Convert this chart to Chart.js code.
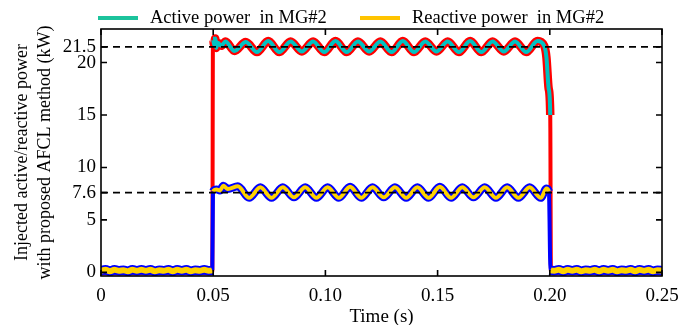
<!DOCTYPE html>
<html>
<head>
<meta charset="utf-8">
<script src="https://cdn.jsdelivr.net/npm/chart.js@4.4.1/dist/chart.umd.min.js"></script>
<style>
  html, body { margin: 0; padding: 0; background: #fff; }
  #wrap { width: 681px; height: 325px; position: relative; }
</style>
</head>
<body>
<div id="wrap"><canvas id="c" width="681" height="325"></canvas></div>
<script>
// ---------------- data ----------------
const legendLabels = ["Active power  in MG#2", "Reactive power  in MG#2"];
const xTickValues = [0, 0.05, 0.10, 0.15, 0.20, 0.25];
const xTickLabels = ["0", "0.05", "0.10", "0.15", "0.20", "0.25"];
const yTickValues = [0, 5, 7.6, 10, 15, 20, 21.5];
const yTickLabels = ["0", "5", "7.6", "10", "15", "20", "21.5"];
const refLevels = [21.5, 7.6];

// active power (kW) vs time (s)
const timeP = [0, 0.0496, 0.0499, 0.0504, 0.0509, 0.0514, 0.0520, 0.0535, 0.0555, 0.0595,
  0.0645, 0.0695, 0.0745, 0.0795, 0.0845, 0.0895, 0.0945, 0.0995, 0.1045, 0.1095,
  0.1145, 0.1195, 0.1245, 0.1295, 0.1345, 0.1395, 0.1445, 0.1495, 0.1545, 0.1595,
  0.1645, 0.1695, 0.1745, 0.1795, 0.1845, 0.1895, 0.1945, 0.1975, 0.1985, 0.1995,
  0.2002, 0.2005, 0.2500];
const activeP = [0.0, 0.0, 22.3, 21.7, 22.3, 21.4, 21.9, 21.6, 22.0, 21.1,
  21.95, 21.0, 22.05, 21.0, 22.0, 21.05, 22.0, 21.0, 22.05, 21.0,
  22.0, 21.05, 22.0, 21.0, 22.05, 21.0, 22.0, 21.05, 22.0, 21.0,
  22.05, 21.0, 22.0, 21.05, 22.0, 21.0, 22.05, 21.6, 20.5, 17.5,
  15.0, 0.0, 0.0];

// reactive power vs time (s)
const timeQ = [0, 0.002, 0.004, 0.006, 0.008, 0.010, 0.012, 0.014, 0.016, 0.018,
  0.020, 0.022, 0.024, 0.026, 0.028, 0.030, 0.032, 0.034, 0.036, 0.038,
  0.040, 0.042, 0.044, 0.046, 0.048, 0.0496,
  0.0499, 0.0515, 0.0530, 0.0545, 0.0565, 0.0610,
  0.0660, 0.0710, 0.0760, 0.0810, 0.0860, 0.0910, 0.0960, 0.1010, 0.1060, 0.1110,
  0.1160, 0.1210, 0.1260, 0.1310, 0.1360, 0.1410, 0.1460, 0.1510, 0.1560, 0.1610,
  0.1660, 0.1710, 0.1760, 0.1810, 0.1860, 0.1910, 0.1960, 0.1985, 0.1996,
  0.2003, 0.2020, 0.2040, 0.2060, 0.2080, 0.2100, 0.2120, 0.2140, 0.2160, 0.2180,
  0.2200, 0.2220, 0.2240, 0.2260, 0.2280, 0.2300, 0.2320, 0.2340, 0.2360, 0.2380,
  0.2400, 0.2420, 0.2440, 0.2460, 0.2480, 0.2500];
const reactiveQ = [0.15, 0.25, 0.1, 0.25, 0.15, 0.2, 0.1, 0.25, 0.15, 0.25,
  0.15, 0.25, 0.1, 0.2, 0.15, 0.25, 0.1, 0.25, 0.15, 0.25,
  0.1, 0.2, 0.15, 0.25, 0.15, 0.2,
  7.7, 7.9, 7.8, 8.25, 7.95, 8.2,
  7.1, 8.1, 7.1, 8.1, 7.15, 8.1, 7.1, 8.1, 7.1, 8.15,
  7.1, 8.1, 7.15, 8.1, 7.1, 8.1, 7.1, 8.15, 7.1, 8.1,
  7.15, 8.1, 7.1, 8.1, 7.1, 8.1, 7.1, 8.0, 7.7,
  0.2, 0.15, 0.25, 0.1, 0.25, 0.15, 0.25, 0.1, 0.2, 0.15,
  0.25, 0.1, 0.25, 0.15, 0.25, 0.1, 0.2, 0.15, 0.25, 0.1,
  0.25, 0.15, 0.25, 0.1, 0.2, 0.15];

// ---------------- styles ----------------
const RED = '#ff0000', TEAL = '#00c2c2', BLUE = '#0000ff', YELLOW = '#ffd200';
const LEG_TEAL = '#1cc39c', LEG_YELLOW = '#ffc400';
const FONT = '"Liberation Serif", "Times New Roman", serif';
const CLEAR = 'rgba(0,0,0,0)';

const pts = (xs, ys) => xs.map((x, i) => ({ x: x, y: ys[i] }));
const isJump = c => Math.abs(c.p1.parsed.y - c.p0.parsed.y) > 3;
const isLow = c => c.p0.parsed.y < 1 && c.p1.parsed.y < 1;
const innerSeg = (color, w, wLow) => ({
  borderColor: c => isJump(c) ? CLEAR : color,
  borderWidth: c => isLow(c) ? wLow : w
});
const outerSeg = (w, wLow) => ({ borderWidth: c => isJump(c) ? 4 : (isLow(c) ? wLow : w) });

const datasets = [
  { label: 'ref1', data: pts([0, 0.25], [refLevels[0], refLevels[0]]), borderColor: '#000',
    borderWidth: 1.6, borderDash: [7, 5], pointRadius: 0, order: -1 },
  { label: 'ref2', data: pts([0, 0.25], [refLevels[1], refLevels[1]]), borderColor: '#000',
    borderWidth: 1.6, borderDash: [7, 5], pointRadius: 0, order: -1 },
  { label: legendLabels[1], data: pts(timeQ, reactiveQ), borderColor: YELLOW, borderWidth: 4,
    pointRadius: 0, cubicInterpolationMode: 'monotone', segment: innerSeg(YELLOW, 4, 6), order: 0 },
  { label: 'Q outline', data: pts(timeQ, reactiveQ), borderColor: BLUE, borderWidth: 8,
    pointRadius: 0, cubicInterpolationMode: 'monotone', segment: outerSeg(8, 9.5), order: 1 },
  { label: legendLabels[0], data: pts(timeP, activeP), borderColor: TEAL, borderWidth: 4,
    pointRadius: 0, cubicInterpolationMode: 'monotone', segment: innerSeg(TEAL, 4, 4), order: 2 },
  { label: 'P outline', data: pts(timeP, activeP), borderColor: RED, borderWidth: 8.5,
    pointRadius: 0, cubicInterpolationMode: 'monotone', segment: outerSeg(8.5, 6), order: 3 }
];

const decor = {
  id: 'decor',
  afterDraw(chart) {
    const { ctx, chartArea: a, scales: { x, y } } = chart;
    ctx.save();
    ctx.strokeStyle = '#000';
    ctx.lineWidth = 1.6;
    ctx.strokeRect(a.left, a.top, a.right - a.left, a.bottom - a.top);
    ctx.beginPath();
    xTickValues.forEach(v => {
      const px = x.getPixelForValue(v);
      ctx.moveTo(px, a.bottom); ctx.lineTo(px, a.bottom - 6);
      ctx.moveTo(px, a.top); ctx.lineTo(px, a.top + 6);
    });
    yTickValues.forEach(v => {
      const py = y.getPixelForValue(v);
      ctx.moveTo(a.left, py); ctx.lineTo(a.left + 6, py);
      ctx.moveTo(a.right, py); ctx.lineTo(a.right - 6, py);
    });
    ctx.stroke();
    // legend
    ctx.lineWidth = 4;
    ctx.strokeStyle = LEG_TEAL;
    ctx.beginPath(); ctx.moveTo(98, 18); ctx.lineTo(138, 18); ctx.stroke();
    ctx.strokeStyle = LEG_YELLOW;
    ctx.beginPath(); ctx.moveTo(360, 18); ctx.lineTo(400, 18); ctx.stroke();
    ctx.fillStyle = '#000';
    ctx.font = '18.5px ' + FONT;
    ctx.textBaseline = 'middle';
    ctx.textAlign = 'left';
    ctx.fillText(legendLabels[0], 150, 18);
    ctx.fillText(legendLabels[1], 412, 18);
    ctx.restore();
  }
};

new Chart(document.getElementById('c'), {
  type: 'line',
  data: { datasets },
  options: {
    responsive: false,
    animation: false,
    events: [],
    layout: { padding: { top: 29, right: 19, left: 0, bottom: 0 } },
    plugins: { legend: { display: false }, tooltip: { enabled: false } },
    scales: {
      x: {
        type: 'linear', min: 0, max: 0.25,
        grid: { display: false, drawTicks: false },
        border: { display: false },
        afterBuildTicks: s => { s.ticks = xTickValues.map(v => ({ value: v })); },
        afterFit: s => { s.height = 49; s.paddingLeft = 0; s.paddingRight = 0; },
        ticks: { autoSkip: false, maxRotation: 0, padding: 9, color: '#000',
          font: { family: FONT, size: 19 },
          callback: (v, i) => xTickLabels[i] },
        title: { display: true, text: 'Time (s)', color: '#000',
          font: { family: FONT, size: 19 }, padding: { top: 0, bottom: -3 } }
      },
      y: {
        type: 'linear', min: -0.35, max: 23.2,
        grid: { display: false, drawTicks: false },
        border: { display: false },
        afterBuildTicks: s => { s.ticks = yTickValues.map(v => ({ value: v })); },
        afterFit: s => { s.width = 101; s.paddingTop = 0; s.paddingBottom = 0; },
        ticks: { autoSkip: false, padding: 5, color: '#000',
          font: { family: FONT, size: 19 },
          callback: (v, i) => yTickLabels[i] },
        title: { display: true, text: ['Injected active/reactive power', 'with proposed AFCL method (kW)'],
          color: '#000', font: { family: FONT, size: 18, lineHeight: 1.28 },
          padding: { top: 11, bottom: 0 } }
      }
    }
  },
  plugins: [decor]
});
</script>
</body>
</html>
